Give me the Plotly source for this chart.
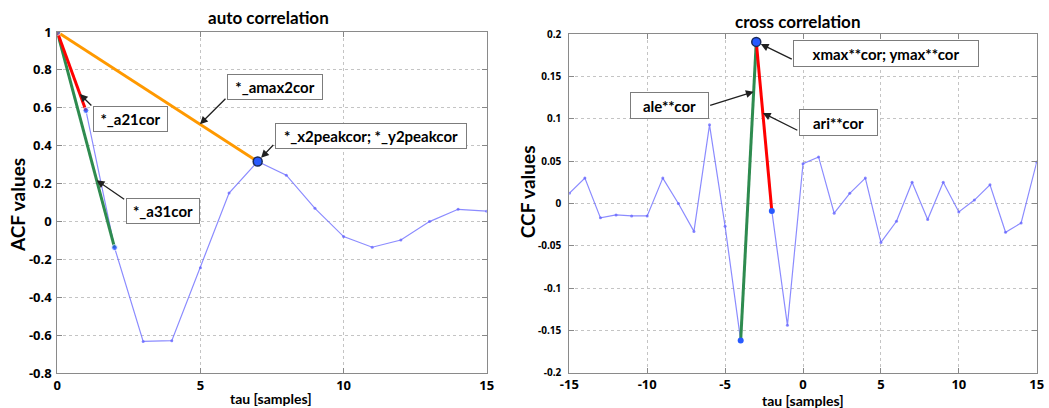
import plotly.graph_objects as go

# ---------------- data ----------------
acf_tau = list(range(0, 16))
acf_vals = [1.0, 0.586, -0.137, -0.632, -0.628, -0.243, 0.151, 0.317,
            0.245, 0.070, -0.079, -0.135, -0.097, 0.0, 0.065, 0.055]

ccf_tau = list(range(-15, 16))
ccf_vals = [0.012, 0.030, -0.017, -0.0135, -0.0147, -0.0147, 0.030, 0.0,
            -0.033, 0.093, -0.027, -0.162, 0.191, -0.009, -0.144, 0.047,
            0.055, -0.0115, 0.012, 0.030, -0.046, -0.021, 0.025, -0.019,
            0.025, -0.010, 0.004, 0.022, -0.034, -0.023, 0.049]

acf_ytick_vals = [1, 0.8, 0.6, 0.4, 0.2, 0, -0.2, -0.4, -0.6, -0.8]
acf_ytick_text = ["1", "0.8", "0.6", "0.4", "0.2", "0", "-0.2", "-0.4", "-0.6", "-0.8"]
acf_xtick_vals = [0, 5, 10, 15]
acf_xtick_text = ["0", "5", "10", "15"]
ccf_ytick_vals = [0.2, 0.15, 0.1, 0.05, 0, -0.05, -0.1, -0.15, -0.2]
ccf_ytick_text = ["0.2", "0.15", "0.1", "0.05", "0", "-0.05", "-0.1", "-0.15", "-0.2"]
ccf_xtick_vals = [-15, -10, -5, 0, 5, 10, 15]
ccf_xtick_text = ["-15", "-10", "-5", "0", "5", "10", "15"]

# key indices
i_peak = 7          # second peak of ACF
j_max = 12          # max of CCF (tau=-3)

FONT = "Lato"
TICK_FONT = "Open Sans"
BLUE_LINE = "rgba(100,100,255,0.75)"
BLUE_DOT = "rgb(40,90,255)"
RED = "#ff0000"
GREEN = "#2e8b4f"
ORANGE = "#ff9900"


def lerp(p0, p1, t):
    return p0 + (p1 - p0) * t


def bold(labels):
    return ["<b>%s</b>" % s for s in labels]


fig = go.Figure()

# ---------- auto correlation ----------
fig.add_trace(go.Scatter(x=acf_tau, y=acf_vals, mode="lines+markers",
                         line=dict(color=BLUE_LINE, width=1.2),
                         marker=dict(size=3, color=BLUE_LINE),
                         xaxis="x", yaxis="y", showlegend=False))
fig.add_trace(go.Scatter(x=[acf_tau[0], acf_tau[2]], y=[acf_vals[0], acf_vals[2]],
                         mode="lines", line=dict(color=GREEN, width=3),
                         xaxis="x", yaxis="y", showlegend=False))
fig.add_trace(go.Scatter(x=[acf_tau[0], acf_tau[1]], y=[acf_vals[0], acf_vals[1]],
                         mode="lines", line=dict(color=RED, width=3),
                         xaxis="x", yaxis="y", showlegend=False))
fig.add_trace(go.Scatter(x=[acf_tau[0], acf_tau[i_peak]], y=[acf_vals[0], acf_vals[i_peak]],
                         mode="lines", line=dict(color=ORANGE, width=3),
                         xaxis="x", yaxis="y", showlegend=False))
fig.add_trace(go.Scatter(x=[acf_tau[0], acf_tau[1], acf_tau[2]],
                         y=[acf_vals[0], acf_vals[1], acf_vals[2]],
                         mode="markers", marker=dict(size=[7, 6, 6], color=BLUE_DOT),
                         xaxis="x", yaxis="y", showlegend=False))
fig.add_trace(go.Scatter(x=[acf_tau[i_peak]], y=[acf_vals[i_peak]], mode="markers",
                         marker=dict(size=9, color=BLUE_DOT,
                                     line=dict(color="#1a2a5a", width=1.5)),
                         xaxis="x", yaxis="y", showlegend=False))

# ---------- cross correlation ----------
fig.add_trace(go.Scatter(x=ccf_tau, y=ccf_vals, mode="lines+markers",
                         line=dict(color=BLUE_LINE, width=1.2),
                         marker=dict(size=3, color=BLUE_LINE),
                         xaxis="x2", yaxis="y2", showlegend=False))
fig.add_trace(go.Scatter(x=[ccf_tau[j_max - 1], ccf_tau[j_max]],
                         y=[ccf_vals[j_max - 1], ccf_vals[j_max]],
                         mode="lines", line=dict(color=GREEN, width=3),
                         xaxis="x2", yaxis="y2", showlegend=False))
fig.add_trace(go.Scatter(x=[ccf_tau[j_max], ccf_tau[j_max + 1]],
                         y=[ccf_vals[j_max], ccf_vals[j_max + 1]],
                         mode="lines", line=dict(color=RED, width=3),
                         xaxis="x2", yaxis="y2", showlegend=False))
fig.add_trace(go.Scatter(x=[ccf_tau[j_max - 1], ccf_tau[j_max + 1]],
                         y=[ccf_vals[j_max - 1], ccf_vals[j_max + 1]],
                         mode="markers", marker=dict(size=6, color=BLUE_DOT),
                         xaxis="x2", yaxis="y2", showlegend=False))
fig.add_trace(go.Scatter(x=[ccf_tau[j_max]], y=[ccf_vals[j_max]], mode="markers",
                         marker=dict(size=9, color=BLUE_DOT,
                                     line=dict(color="#1a2a5a", width=1.5)),
                         xaxis="x2", yaxis="y2", showlegend=False))

# ---------- axes ----------
common = dict(showgrid=True, gridcolor="#c4c4c4", griddash="dot", gridwidth=1,
              ticks="inside", ticklen=5, tickcolor="#888", showline=True,
              linecolor="#8a8a8a", linewidth=1, mirror="ticks", zeroline=False,
              automargin=False)

TICKF = dict(family=TICK_FONT, size=13, color="black", weight="bold")

fig.update_layout(
    width=1049, height=408,
    margin=dict(l=0, r=0, t=0, b=0, autoexpand=False),
    paper_bgcolor="white", plot_bgcolor="white",
    showlegend=False,
    xaxis=dict(domain=[0.0546, 0.464], range=[0, 15], anchor="y",
               tickvals=acf_xtick_vals, ticktext=bold(acf_xtick_text),
               tickfont=TICKF, **common),
    yaxis=dict(domain=[0.085, 0.9216], range=[-0.8, 1], anchor="x",
               tickvals=acf_ytick_vals, ticktext=bold(acf_ytick_text),
               tickfont=TICKF, ticklabelstandoff=2, **common),
    xaxis2=dict(domain=[0.5427, 0.9883], range=[-15, 15], anchor="y2",
                tickvals=ccf_xtick_vals, ticktext=bold(ccf_xtick_text),
                tickfont=TICKF, **common),
    yaxis2=dict(domain=[0.0865, 0.916], range=[-0.2, 0.2], anchor="x2",
                tickvals=ccf_ytick_vals, ticktext=bold(ccf_ytick_text),
                tickfont=dict(family=TICK_FONT, size=10, color="black", weight="bold"),
                ticklabelstandoff=5, **common),
)

anns = []


def paper_text(txt, x, y, size, angle=0):
    return dict(text="<b>%s</b>" % txt, x=x, y=y, xref="paper", yref="paper",
                showarrow=False, textangle=angle, xanchor="center", yanchor="middle",
                font=dict(family=FONT, size=size, color="black"))


anns += [
    paper_text("auto correlation", 0.2564, 0.9559, 17),
    paper_text("cross correlation", 0.7607, 0.9485, 17),
    paper_text("ACF values", 0.0162, 0.4975, 19, -90),
    paper_text("CCF values", 0.5024, 0.529, 19, -90),
    paper_text("tau [samples]", 0.2583, 0.0245, 14),
    paper_text("tau [samples]", 0.7655, 0.0196, 14),
]


def box(txt, x, y, xr, yr, w, h):
    return dict(text="<b>%s</b>" % txt, x=x, y=y, xref=xr, yref=yr,
                showarrow=False, bgcolor="white", bordercolor="#7c7c7c", borderwidth=1,
                borderpad=2, width=w - 6, height=h - 6,
                font=dict(family=FONT, size=15, color="black"),
                xanchor="center", yanchor="middle", align="center")


ARROW = dict(text="", showarrow=True, arrowhead=2, arrowsize=1.2, arrowwidth=1.3,
             arrowcolor="#202020")

# left plot arrows (tips on lines)
a21_tip = (lerp(acf_tau[0], acf_tau[1], 0.79), lerp(acf_vals[0], acf_vals[1], 0.79))
a31_tip = (lerp(acf_tau[0], acf_tau[2], 0.688), lerp(acf_vals[0], acf_vals[2], 0.688))
amax_tip = (lerp(acf_tau[0], acf_tau[i_peak], 0.712), lerp(acf_vals[0], acf_vals[i_peak], 0.712))
peak_tip = (acf_tau[i_peak], acf_vals[i_peak])

anns += [
    dict(x=a21_tip[0], y=a21_tip[1], xref="x", yref="y", ax=13, ay=13, **ARROW),
    dict(x=amax_tip[0], y=amax_tip[1], xref="x", yref="y", ax=27, ay=-27, **ARROW),
    dict(x=peak_tip[0], y=peak_tip[1], xref="x", yref="y", ax=17, ay=-18, standoff=5, **ARROW),
    dict(x=a31_tip[0], y=a31_tip[1], xref="x", yref="y", ax=29, ay=20, **ARROW),
    box("*_a21cor", 2.557, 0.540, "x", "y", 75, 26),
    box("*_amax2cor", 7.604, 0.711, "x", "y", 96, 26),
    box("*_x2peakcor; *_y2peakcor", 10.957, 0.453, "x", "y", 192, 26),
    box("*_a31cor", 3.692, 0.057, "x", "y", 74, 26),
]

# right plot arrows
ale_tip = (lerp(ccf_tau[j_max - 1], ccf_tau[j_max], 0.833), lerp(ccf_vals[j_max - 1], ccf_vals[j_max], 0.833))
ari_tip = (lerp(ccf_tau[j_max], ccf_tau[j_max + 1], 0.42), lerp(ccf_vals[j_max], ccf_vals[j_max + 1], 0.42))
max_tip = (ccf_tau[j_max], ccf_vals[j_max])

anns += [
    dict(x=max_tip[0], y=max_tip[1], xref="x2", yref="y2", ax=37, ay=18, standoff=5, **ARROW),
    dict(x=ale_tip[0], y=ale_tip[1], xref="x2", yref="y2", ax=-45, ay=14, **ARROW),
    dict(x=ari_tip[0], y=ari_tip[1], xref="x2", yref="y2", ax=36, ay=18, **ARROW),
    box("xmax**cor; ymax**cor", 5.33, 0.1775, "x2", "y2", 186, 27),
    box("ale**cor", -8.58, 0.116, "x2", "y2", 79, 27),
    box("ari**cor", 2.27, 0.0963, "x2", "y2", 79, 27),
]

fig.update_layout(annotations=anns)

fig.write_html("out.html")
